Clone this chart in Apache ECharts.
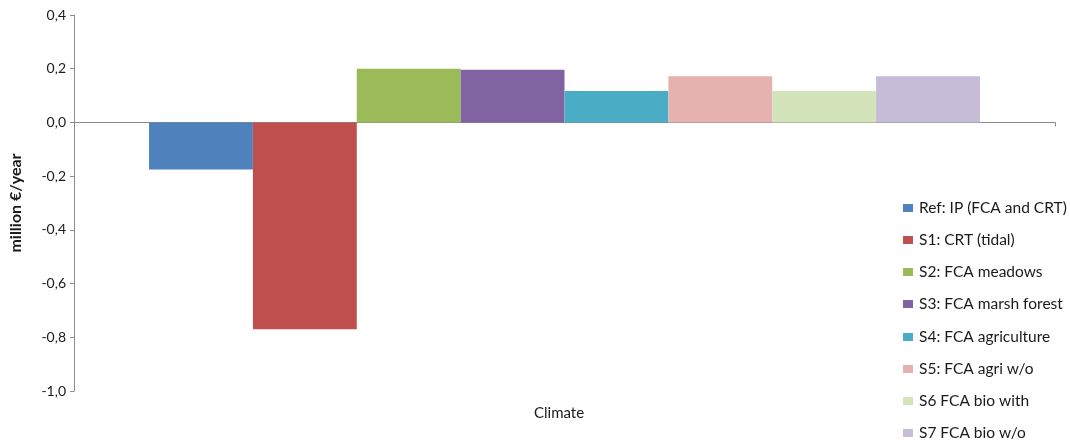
<!DOCTYPE html>
<html>
<head>
<meta charset="utf-8">
<script src="https://cdn.jsdelivr.net/npm/echarts@6/dist/echarts.min.js"></script>
<style>
  html, body { margin: 0; padding: 0; background: #fff; }
  #main { width: 1070px; height: 441px; }
</style>
</head>
<body>
<div id="main"></div>
<script>
// data
let categories = ['Climate'];
let scenarioNames = [
  'Ref: IP (FCA and CRT)',
  'S1: CRT (tidal)',
  'S2: FCA meadows',
  'S3: FCA marsh forest',
  'S4: FCA agriculture',
  'S5: FCA agri w/o',
  'S6 FCA bio with',
  'S7 FCA bio w/o'
];
let scenarioValues = [-0.175, -0.77, 0.2, 0.196, 0.117, 0.172, 0.117, 0.172];
let scenarioColors = ['#4F81BD', '#C0504D', '#9BBB59', '#8064A2', '#4BACC6', '#E6B2AF', '#D3E3BA', '#C6BCD8'];

let chart = echarts.init(document.getElementById('main'));

let series = scenarioNames.map(function (name, i) {
  return {
    name: name,
    type: 'bar',
    data: [scenarioValues[i]],
    barGap: 0,
    barCategoryGap: '15.3%',
    itemStyle: { color: scenarioColors[i] }
  };
});

let font = 'Lato';

// legend is split in two columns-of-one so the long list is not wrapped off screen
function legendPart(names, top) {
  return {
    orient: 'vertical',
    left: 903,
    top: top,
    padding: 0,
    icon: 'rect',
    itemWidth: 10,
    itemHeight: 8,
    itemGap: 16,
    textStyle: { fontFamily: font, fontSize: 15.5, color: '#1a1a1a', padding: [0, 0, 0, 1] },
    data: names
  };
}

chart.setOption({
  animation: false,
  title: {
    text: 'Climate',
    left: 529,
    top: 401,
    textStyle: { fontFamily: font, fontSize: 15, fontWeight: 'normal', color: '#1a1a1a' }
  },
  legend: [
    legendPart(scenarioNames.slice(0, 4), 200),
    legendPart(scenarioNames.slice(4), 329)
  ],
  grid: { left: 73, right: 15, top: 15, bottom: 50, containLabel: false },
  xAxis: {
    type: 'category',
    data: categories,
    axisLine: { onZero: true, lineStyle: { color: '#8C8C8C', width: 1 } },
    axisTick: { show: true, length: 4, lineStyle: { color: '#8C8C8C' } },
    axisLabel: { show: false }
  },
  yAxis: {
    type: 'value',
    min: -1,
    max: 0.4,
    interval: 0.2,
    name: 'million €/year',
    nameLocation: 'middle',
    nameGap: 50,
    nameTextStyle: { fontFamily: font, fontSize: 16, fontWeight: 'bold', color: '#1a1a1a' },
    axisLine: { show: true, lineStyle: { color: '#8C8C8C' } },
    axisTick: { show: true, length: 4, lineStyle: { color: '#8C8C8C' } },
    splitLine: { show: false },
    axisLabel: {
      fontFamily: font,
      fontSize: 14,
      color: '#1a1a1a',
      margin: 8,
      formatter: function (v) { return v.toFixed(1).replace('.', ','); }
    }
  },
  series: series
});
</script>
</body>
</html>
